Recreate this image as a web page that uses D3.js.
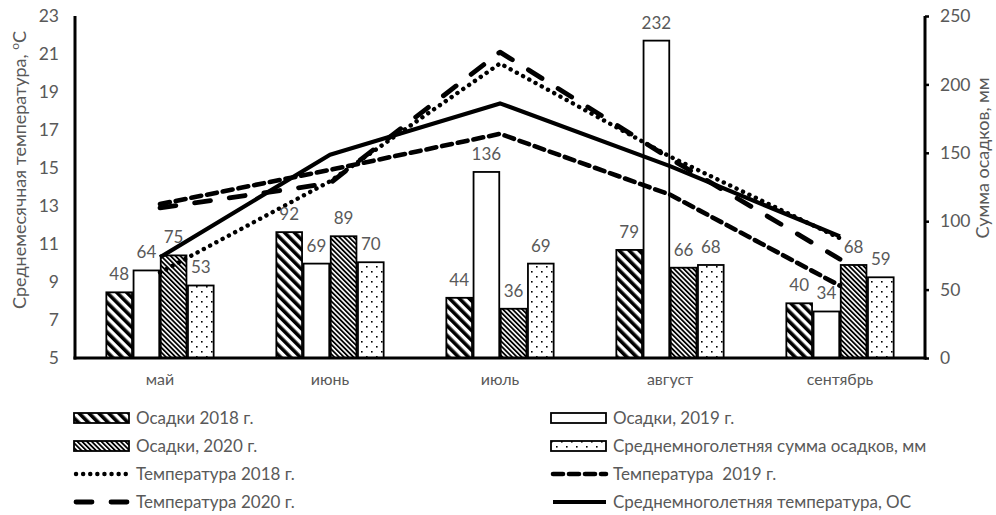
<!DOCTYPE html>
<html><head><meta charset="utf-8">
<script src="https://cdn.jsdelivr.net/npm/d3@7"></script>
<style>body{margin:0;background:#fff}svg{display:block;font-family:Lato,"Open Sans",sans-serif}</style>
</head><body><svg id="c" width="996" height="515"></svg>
<script>
const months = ["май","июнь","июль","август","сентябрь"];
const rain2018 = [48, 92, 44, 79, 40];
const rain2019 = [64, 69, 136, 232, 34];
const rain2020 = [75, 89, 36, 66, 68];
const rainAvg  = [53, 70, 69, 68, 59];
const temp2018 = [9.5, 14.3, 20.5, 15.6, 11.3];
const temp2019 = [13.1, 14.9, 16.8, 13.6, 8.8];
const temp2020 = [12.9, 14.2, 21.1, 15.5, 10.2];
const tempAvg  = [10.3, 15.7, 18.4, 15.1, 11.4];
const leftTicks = [5,7,9,11,13,15,17,19,21,23];
const rightTicks = [0,50,100,150,200,250];

const svg = d3.select("#c");
const grey = "#595959";
const defs = svg.append("defs");
const p1 = defs.append("pattern").attr("id","p2018").attr("patternUnits","userSpaceOnUse")
  .attr("width",7).attr("height",7).attr("patternTransform","rotate(-45)");
p1.append("rect").attr("width",7).attr("height",7).attr("fill","#fff");
p1.append("rect").attr("width",3.6).attr("height",7).attr("fill","#000");
const p3 = defs.append("pattern").attr("id","p2020").attr("patternUnits","userSpaceOnUse")
  .attr("width",3.4).attr("height",3.4).attr("patternTransform","rotate(-45)");
p3.append("rect").attr("width",3.4).attr("height",3.4).attr("fill","#fff");
p3.append("rect").attr("width",1.8).attr("height",3.4).attr("fill","#000");
const p4 = defs.append("pattern").attr("id","pAvg").attr("patternUnits","userSpaceOnUse")
  .attr("width",10).attr("height",10);
p4.append("rect").attr("width",10).attr("height",10).attr("fill","#fff");
p4.append("rect").attr("x",1).attr("y",1).attr("width",1.6).attr("height",1.6).attr("fill","#000");
p4.append("rect").attr("x",6).attr("y",6).attr("width",1.6).attr("height",1.6).attr("fill","#000");

const L = 75, R = 925, T = 16, B = 358;
const x0 = d3.scaleBand().domain(months).range([L,R]).paddingInner(0.36).paddingOuter(0.18);
const barSeries = [
  {key:"2018", vals:rain2018, fill:"url(#p2018)", name:"Осадки 2018 г."},
  {key:"2019", vals:rain2019, fill:"#fff", name:"Осадки, 2019 г."},
  {key:"2020", vals:rain2020, fill:"url(#p2020)", name:"Осадки, 2020 г."},
  {key:"avg", vals:rainAvg, fill:"url(#pAvg)", name:"Среднемноголетняя сумма осадков, мм"}
];
const x1 = d3.scaleBand().domain(barSeries.map(s=>s.key)).range([0,x0.bandwidth()]);
const yL = d3.scaleLinear().domain([5,23]).range([B,T]);
const yR = d3.scaleLinear().domain([0,250]).range([B,T]);

barSeries.forEach(s=>{
  svg.append("g").selectAll("rect").data(months).join("rect")
    .attr("x",(m)=>x0(m)+x1(s.key)+0.75)
    .attr("y",(m,i)=>yR(s.vals[i]))
    .attr("width",x1.bandwidth()-1.5)
    .attr("height",(m,i)=>B-yR(s.vals[i]))
    .attr("fill",s.fill).attr("stroke","#000").attr("stroke-width",1.8);
});

const lineSeries = [
  {vals:temp2018, dash:"0.1 7", cap:"round", w:4.4, name:"Температура 2018 г."},
  {vals:temp2019, dash:"10 6", cap:"round", w:4.6, name:"Температура  2019 г."},
  {vals:temp2020, dash:"16 19", cap:"round", w:4.8, name:"Температура 2020 г."},
  {vals:tempAvg, dash:null, cap:"butt", w:4.2, name:"Среднемноголетняя температура, ОС"}
];
const line = d3.line().x((d,i)=>x0(months[i])+x0.bandwidth()/2).y(d=>yL(d));
lineSeries.forEach(s=>{
  svg.append("path").attr("d",line(s.vals)).attr("fill","none").attr("stroke","#000")
    .attr("stroke-width",s.w).attr("stroke-linecap",s.cap).attr("stroke-linejoin","round")
    .attr("stroke-dasharray",s.dash);
});

barSeries.forEach(s=>{
  svg.append("g").selectAll("text").data(months).join("text")
    .attr("x",(m)=>x0(m)+x1(s.key)+x1.bandwidth()/2)
    .attr("y",(m,i)=>yR(s.vals[i])-12)
    .attr("text-anchor","middle").attr("fill",grey).attr("font-size",17)
    .text((m,i)=>s.vals[i]);
});

const axL = svg.append("g").attr("transform",`translate(${L},0)`)
  .call(d3.axisLeft(yL).tickValues(leftTicks).tickSize(0).tickPadding(16));
axL.select(".domain").remove();
axL.selectAll("text").attr("fill",grey).attr("font-size",17.5).attr("font-family","Lato");
const axR = svg.append("g").attr("transform",`translate(${R},0)`)
  .call(d3.axisRight(yR).tickValues(rightTicks).tickSize(4).tickPadding(11));
axR.select(".domain").remove();
axR.selectAll("line").attr("stroke","#000").attr("stroke-width",2.5);
axR.selectAll("text").attr("fill",grey).attr("font-size",17.5).attr("font-family","Lato");
const axB = svg.append("g").attr("transform",`translate(0,${B})`)
  .call(d3.axisBottom(x0).tickSize(0).tickPadding(16));
axB.select(".domain").remove();
axB.selectAll("text").attr("fill",grey).attr("font-size",16).attr("font-family","Lato");

svg.append("line").attr("x1",L).attr("x2",L).attr("y1",T).attr("y2",B+1.5).attr("stroke","#000").attr("stroke-width",3);
svg.append("line").attr("x1",R).attr("x2",R).attr("y1",T).attr("y2",B+1.5).attr("stroke","#000").attr("stroke-width",3);
svg.append("line").attr("x1",L-1.5).attr("x2",R+1.5).attr("y1",B).attr("y2",B).attr("stroke","#000").attr("stroke-width",3.2);

const tl = svg.append("text").attr("transform","translate(26,170) rotate(-90)")
  .attr("text-anchor","middle").attr("fill",grey).attr("font-size",18);
tl.append("tspan").text("Среднемесячная температура, ");
tl.append("tspan").attr("font-size",12).attr("dy",-7).text("о");
tl.append("tspan").attr("dy",7).text("С");
svg.append("text").attr("transform","translate(989,158) rotate(-90)")
  .attr("text-anchor","middle").attr("fill",grey).attr("font-size",18).text("Сумма осадков, мм");

const legendItems = [
  {type:"bar", s:barSeries[0]}, {type:"bar", s:barSeries[1]},
  {type:"bar", s:barSeries[2]}, {type:"bar", s:barSeries[3]},
  {type:"line", s:lineSeries[0]}, {type:"line", s:lineSeries[1]},
  {type:"line", s:lineSeries[2]}, {type:"line", s:lineSeries[3]}
];
const colX = [74, 551], rowY = [418, 446, 474, 502];
legendItems.forEach((it,i)=>{
  const cx = colX[i%2], cy = rowY[Math.floor(i/2)];
  const g = svg.append("g");
  if(it.type==="bar"){
    g.append("rect").attr("x",cx).attr("y",cy-5).attr("width",55).attr("height",10)
      .attr("fill",it.s.fill).attr("stroke","#000").attr("stroke-width",1.8);
  } else {
    g.append("line").attr("x1",cx+2).attr("x2",cx+55).attr("y1",cy).attr("y2",cy)
      .attr("stroke","#000").attr("stroke-width",it.s.w).attr("stroke-linecap",it.s.cap)
      .attr("stroke-dasharray",it.s.dash);
  }
  g.append("text").attr("x",cx+62).attr("y",cy+6).attr("fill",grey).attr("font-size",17)
    .attr("xml:space","preserve").style("white-space","pre").text(it.s.name);
});
</script></body></html>
